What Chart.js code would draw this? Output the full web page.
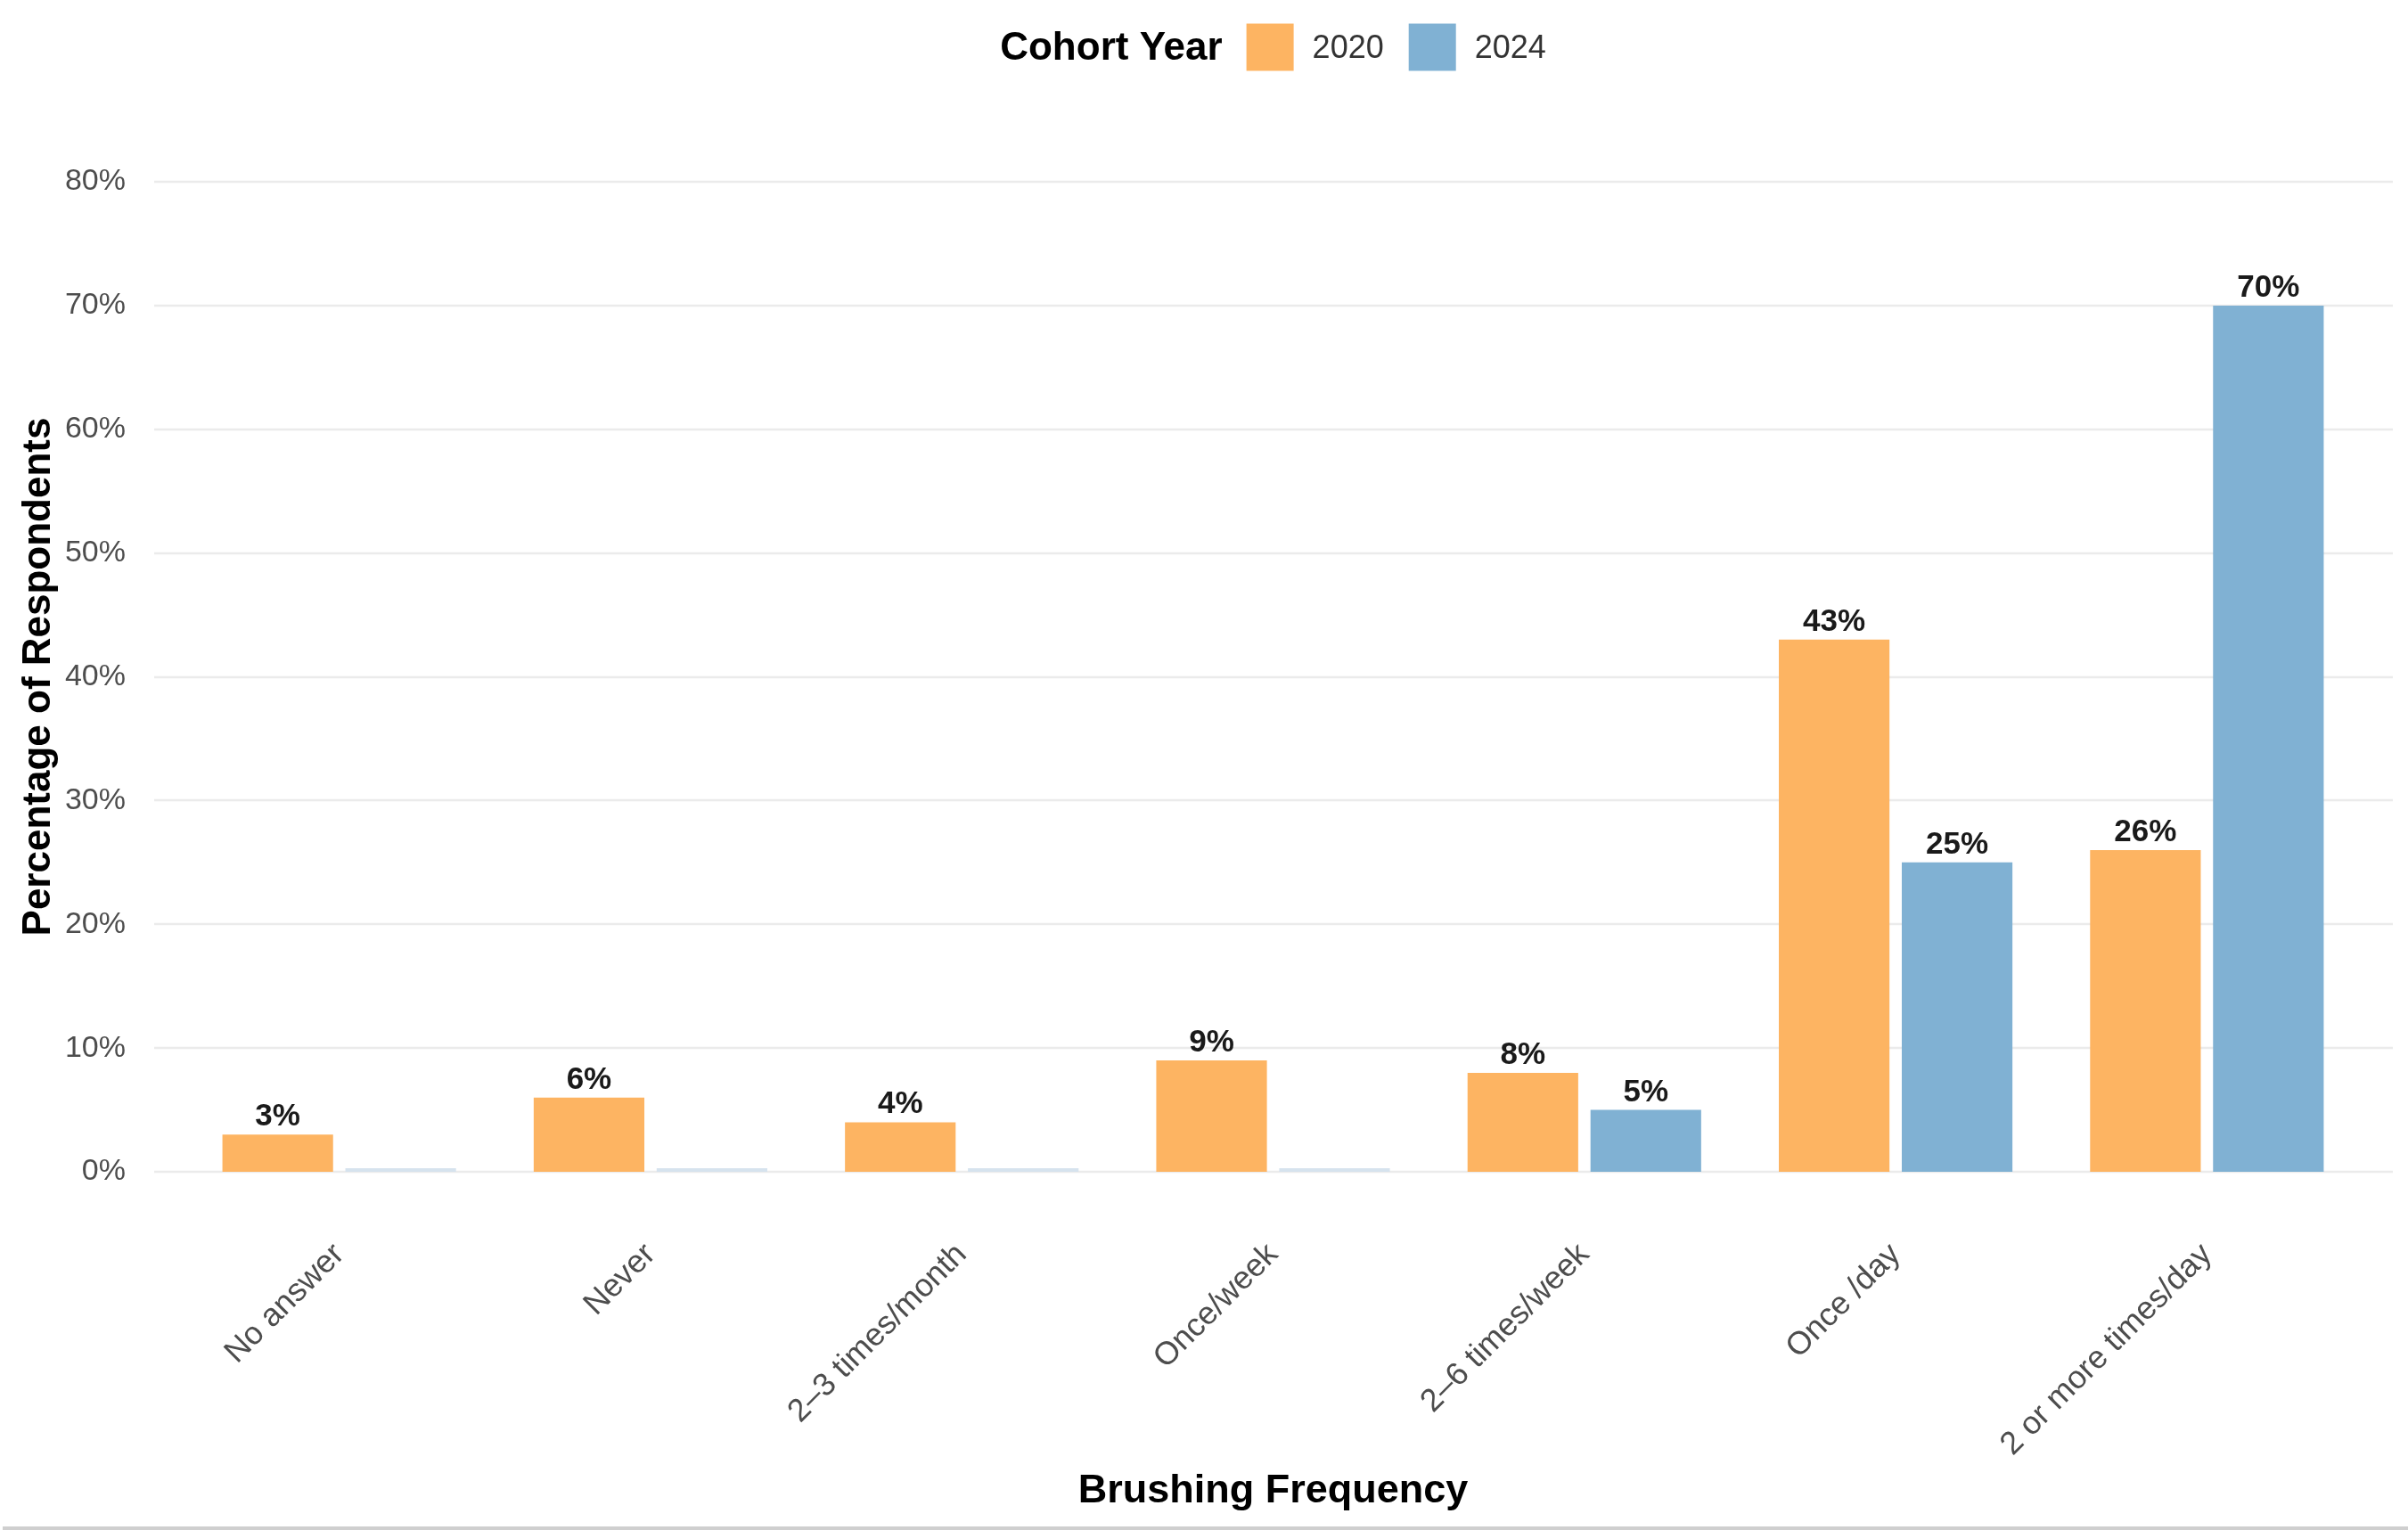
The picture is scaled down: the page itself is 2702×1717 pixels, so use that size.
<!DOCTYPE html>
<html><head><meta charset="utf-8">
<script src="https://cdn.jsdelivr.net/npm/chart.js@4.4.1/dist/chart.umd.min.js"></script>
<style>html,body{margin:0;padding:0;background:#fff;}#wrap{width:2702px;height:1717px;position:relative;}</style>
</head><body><div id="wrap"><canvas id="c"></canvas></div>
<script>
const categories = ["No answer","Never","2\u20133 times/month","Once/week","2\u20136 times/week","Once /day","2 or more times/day"];
const seriesNames = ["2020","2024"];
const values2020 = [3,6,4,9,8,43,26];
const values2024 = [0,0,0,0,5,25,70];
const yTickValues = [0,10,20,30,40,50,60,70,80];
const legendTitle = "Cohort Year";
const xTitle = "Brushing Frequency";
const yTitle = "Percentage of Respondents";

const COLORS = ['#FDB462', '#80B1D3'];
const ZERO_COLORS = ['#fde3c4', '#d6e3ee'];
const FONT = '"Liberation Sans", Arial, Helvetica, sans-serif';

const gridExt = {
  id: 'gridExt',
  beforeDatasetsDraw(chart) {
    const {ctx, chartArea: a, scales: {y}} = chart;
    ctx.save();
    ctx.strokeStyle = '#ebebeb';
    ctx.lineWidth = 2.6;
    y.ticks.forEach(t => {
      const py = Math.round(y.getPixelForValue(t.value));
      ctx.beginPath();
      ctx.moveTo(a.left - 33, py);
      ctx.lineTo(a.right + 34, py);
      ctx.stroke();
    });
    ctx.restore();
  }
};

const valueLabels = {
  id: 'valueLabels',
  afterDatasetsDraw(chart) {
    const {ctx} = chart;
    ctx.save();
    ctx.font = 'bold 35px ' + FONT;
    ctx.fillStyle = '#1a1a1a';
    ctx.textAlign = 'center';
    ctx.textBaseline = 'alphabetic';
    chart.data.datasets.forEach((ds, di) => {
      const meta = chart.getDatasetMeta(di);
      meta.data.forEach((bar, i) => {
        const v = ds.data[i];
        if (!v) return;
        ctx.fillText(v + '%', bar.x, bar.y - 10);
      });
    });
    ctx.restore();
  }
};

const inlineLegend = {
  id: 'inlineLegend',
  afterDraw(chart) {
    const {ctx, chartArea: a} = chart;
    const cy = 53, box = 53;
    ctx.save();
    ctx.textBaseline = 'middle';
    ctx.textAlign = 'left';
    ctx.font = 'bold 44px ' + FONT;
    const tw = ctx.measureText(legendTitle).width;
    ctx.font = '36px ' + FONT;
    const itemWs = chart.data.datasets.map(d => ctx.measureText(d.label).width);
    const gapTitle = 27, gapBoxText = 21, gapItem = 28;
    let total = tw + gapTitle;
    itemWs.forEach((w, i) => { total += box + gapBoxText + w + (i < itemWs.length - 1 ? gapItem : 0); });
    let x = (a.left + a.right) / 2 - total / 2;
    ctx.font = 'bold 44px ' + FONT;
    ctx.fillStyle = '#000';
    ctx.fillText(legendTitle, x, cy + 2);
    x += tw + gapTitle;
    chart.data.datasets.forEach((d, i) => {
      ctx.fillStyle = COLORS[i];
      ctx.fillRect(x, cy - box / 2, box, box);
      x += box + gapBoxText;
      ctx.font = '36px ' + FONT;
      ctx.fillStyle = '#333';
      ctx.fillText(d.label, x, cy + 2);
      x += itemWs[i] + gapItem;
    });
    ctx.fillStyle = '#cfcfcf';
    ctx.fillRect(3, chart.height - 4, chart.width - 3, 4);
    ctx.restore();
  }
};

const mkColor = (i) => (c) => (c.raw === 0 ? ZERO_COLORS[i] : COLORS[i]);

new Chart(document.getElementById('c'), {
  type: 'bar',
  data: {
    labels: categories,
    datasets: [
      {label: seriesNames[0], data: values2020, backgroundColor: mkColor(0), minBarLength: 4},
      {label: seriesNames[1], data: values2024, backgroundColor: mkColor(1), minBarLength: 4}
    ]
  },
  options: {
    responsive: true,
    maintainAspectRatio: false,
    devicePixelRatio: 1,
    animation: false,
    datasets: {bar: {categoryPercentage: 0.79, barPercentage: 0.9, borderWidth: 0}},
    layout: {padding: {left: 17, right: 51, top: 204, bottom: 10}},
    plugins: {legend: {display: false}, tooltip: {enabled: false}},
    scales: {
      x: {
        grid: {display: false},
        border: {display: false},
        afterFit(scale) { scale.height = 392; },
        ticks: {color: '#4d4d4d', font: {family: FONT, size: 36}, minRotation: 45, maxRotation: 45, padding: 64, autoSkip: false},
        title: {display: true, text: xTitle, color: '#000', font: {family: FONT, size: 45, weight: 'bold'}, padding: {top: 24, bottom: 6}}
      },
      y: {
        min: 0, max: 80,
        afterBuildTicks(scale) { scale.ticks = yTickValues.map(v => ({value: v})); },
        afterFit(scale) { scale.width = 189; },
        grid: {display: false},
        border: {display: false},
        ticks: {color: '#4d4d4d', font: {family: FONT, size: 34}, padding: 57, callback: v => v + '%'},
        title: {display: true, text: yTitle, color: '#000', font: {family: FONT, size: 44, weight: 'bold'}, padding: {top: 0, bottom: 11}}
      }
    }
  },
  plugins: [gridExt, valueLabels, inlineLegend]
});
</script></body></html>
